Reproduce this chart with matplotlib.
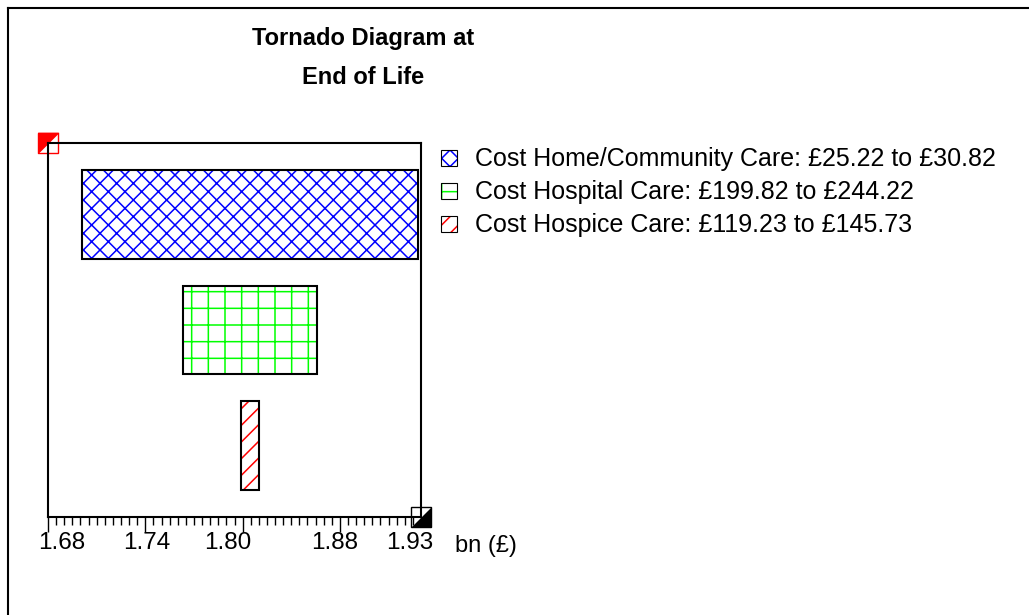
import numpy as np
import matplotlib.pyplot as plt
from matplotlib.patches import Rectangle
from matplotlib.lines import Line2D
from matplotlib.ticker import MultipleLocator, FixedLocator

plt.rcParams["font.family"] = ["Liberation Sans", "DejaVu Sans"]
plt.rcParams["hatch.linewidth"] = 1.1

W, H = 1029, 615

# --- data ---
factors = ["Cost Home/Community Care", "Cost Hospital Care", "Cost Hospice Care"]
range_lo = ["£25.22", "£199.82", "£119.23"]
range_hi = ["£30.82", "£244.22", "£145.73"]
bar_low = [1.701, 1.763, 1.799]
bar_high = [1.908, 1.846, 1.810]
major_ticks = [1.68, 1.74, 1.80, 1.86]
tick_labels = ["1.68", "1.74", "1.80", "1.88", "1.93"]
tick_label_at = [1.6886, 1.7410, 1.7910, 1.8569, 1.9032]
x_unit = "bn (£)"
title_lines = ["Tornado Diagram at", "End of Life"]

hatch_colors = ["#0000FF", "#00FF00", "#FF0000"]
hatches = ["xx", "+", "//"]


def fx(px):
    return px / W


def fy(py):
    return 1 - py / H


fig = plt.figure(figsize=(W / 100, H / 100), dpi=100)

# outer frame (only left/top edges visible in the original)
fig.add_artist(Line2D([fx(7.7), fx(7.7)], [0, fy(7.7)], color="black", lw=1.5,
                      transform=fig.transFigure))
fig.add_artist(Line2D([fx(7.7), 1], [fy(7.7), fy(7.7)], color="black", lw=1.5,
                      transform=fig.transFigure))

# title
for i, line in enumerate(title_lines):
    fig.text(fx(363), fy(38 + 39 * i), line, ha="center", va="center",
             fontsize=17, fontweight="bold")

ax = fig.add_axes([fx(48), fy(517), (421 - 48) / W, (517 - 143) / H])
y = np.arange(len(factors))
widths = np.array(bar_high) - np.array(bar_low)
for yi, lo, w, hc, ht in zip(y, bar_low, widths, hatch_colors, hatches):
    ax.barh(yi, w, left=lo, height=0.77, color="white", edgecolor=hc,
            hatch=ht, linewidth=0, zorder=2)
    ax.barh(yi, w, left=lo, height=0.77, fill=False, edgecolor="black",
            linewidth=1.5, zorder=3)

ax.set_xlim(1.68, 1.91)
ax.set_ylim(2.619, -0.619)
ax.set_yticks([])
ax.xaxis.set_major_locator(FixedLocator(major_ticks))
ax.xaxis.set_minor_locator(MultipleLocator(0.005))
ax.tick_params(axis="x", which="major", length=11, width=1, labelbottom=False)
ax.tick_params(axis="x", which="minor", length=6, width=1)
for sp in ax.spines.values():
    sp.set_linewidth(1.5)

sec = ax.secondary_xaxis("bottom")
sec.set_xticks(tick_label_at, tick_labels)
sec.tick_params(length=0, pad=11, labelsize=17.5)
sec.spines["bottom"].set_visible(False)

fig.text(fx(455), fy(546), x_unit, ha="left", va="center", fontsize=17)

# corner handles
ax.plot([0], [1], transform=ax.transAxes, marker="s", ms=15, mfc="white",
        mec="red", mew=1, clip_on=False, zorder=1.5)
ax.plot([0], [1], transform=ax.transAxes, marker=[(-1, 1), (1, 1), (-1, -1)],
        ms=15, mfc="red", mec="red", mew=0.5, clip_on=False, zorder=1.6)
ax.plot([1], [0], transform=ax.transAxes, marker="s", ms=15, mfc="white",
        mec="black", mew=1, clip_on=False, zorder=1.5)
ax.plot([1], [0], transform=ax.transAxes, marker=[(-1, -1), (1, -1), (1, 1)],
        ms=15, mfc="black", mec="black", mew=0.5, clip_on=False, zorder=1.6)

# legend
for i, (f, lo, hi, hc, ht) in enumerate(zip(factors, range_lo, range_hi,
                                            hatch_colors, hatches)):
    yc = 158 + 33 * i
    x0, y0 = fx(441), fy(yc + 8)
    sw, sh = 16 / W, 16 / H
    fig.add_artist(Rectangle((x0, y0), sw, sh, transform=fig.transFigure,
                             facecolor="white", edgecolor=hc, hatch=ht, lw=0))
    fig.add_artist(Rectangle((x0, y0), sw, sh, transform=fig.transFigure,
                             fill=False, edgecolor="black", lw=0.8))
    fig.text(fx(475), fy(yc + 1), f"{f}: {lo} to {hi}", ha="left", va="center",
             fontsize=18)

fig.savefig("out.png", dpi=100)
